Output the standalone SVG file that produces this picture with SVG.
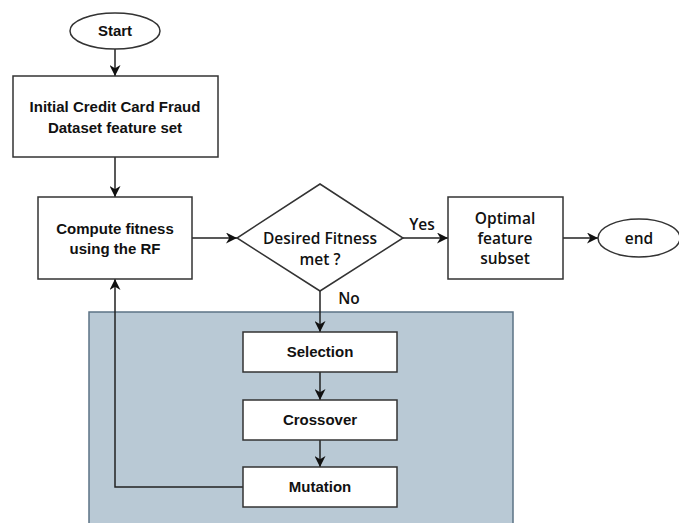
<svg xmlns="http://www.w3.org/2000/svg" width="679" height="523" viewBox="0 0 679 523">
<defs>
<marker id="ah" viewBox="0 0 10 10" refX="10" refY="5" markerWidth="11" markerHeight="11" markerUnits="userSpaceOnUse" orient="auto"><path d="M0,0 L10,5 L0,10 L3,5 Z" fill="#111"/></marker>
<style>
.n{fill:#fff;stroke:#333;stroke-width:1.5}
.t{font-family:"Liberation Sans",Arial,sans-serif;font-weight:bold;font-size:15px;fill:#111;text-anchor:middle}
.o{font-family:"Open Sans","Noto Sans",sans-serif;font-weight:600;font-size:15.5px;fill:#111;text-anchor:middle}
.c{fill:none;stroke:#222;stroke-width:1.5}
</style>
</defs>
<rect width="679" height="523" fill="#fff"/>
<g id="panel"><rect x="89" y="312" width="424" height="215" fill="#b9c9d5" stroke="#5c7385" stroke-width="1.5"/></g>
<g id="connectors">
<path class="c" d="M115,49 V76" marker-end="url(#ah)"/>
<path class="c" d="M115,157 V197" marker-end="url(#ah)"/>
<path class="c" d="M192,238 H237" marker-end="url(#ah)"/>
<path class="c" d="M403,238 H448" marker-end="url(#ah)"/>
<path class="c" d="M563,238 H598" marker-end="url(#ah)"/>
<path class="c" d="M320,291 V332" marker-end="url(#ah)"/>
<path class="c" d="M320,372 V400" marker-end="url(#ah)"/>
<path class="c" d="M320,440 V467" marker-end="url(#ah)"/>
<path class="c" d="M243,487 H115 V279" marker-end="url(#ah)"/>
<text class="o" x="422" y="230">Yes</text>
<text class="o" x="349" y="304">No</text>
</g>
<g id="start"><ellipse class="n" cx="115" cy="31" rx="45" ry="18"/><text class="t" x="115" y="36">Start</text></g>
<g id="initial"><rect class="n" x="13" y="76" width="205" height="81"/><text class="t" x="115" y="112">Initial Credit Card Fraud</text><text class="t" x="115" y="133">Dataset feature set</text></g>
<g id="compute"><rect class="n" x="38" y="197" width="154" height="82"/><text class="t" x="115" y="234">Compute fitness</text><text class="t" x="115" y="254">using the RF</text></g>
<g id="decision"><polygon class="n" points="320,184 403,238 320,291 237,238"/><text class="o" x="320" y="244">Desired Fitness</text><text class="o" x="320" y="265">met ?</text></g>
<g id="optimal"><rect class="n" x="448" y="197" width="115" height="82"/><text class="o" x="505" y="224">Optimal</text><text class="o" x="505" y="244">feature</text><text class="o" x="505" y="264">subset</text></g>
<g id="end"><ellipse class="n" cx="639" cy="238" rx="41" ry="19"/><text class="o" x="639" y="244">end</text></g>
<g id="selection"><rect class="n" x="243" y="332" width="154" height="40"/><text class="t" x="320" y="357">Selection</text></g>
<g id="crossover"><rect class="n" x="243" y="400" width="154" height="40"/><text class="t" x="320" y="425">Crossover</text></g>
<g id="mutation"><rect class="n" x="243" y="467" width="154" height="40"/><text class="t" x="320" y="492">Mutation</text></g>
</svg>
